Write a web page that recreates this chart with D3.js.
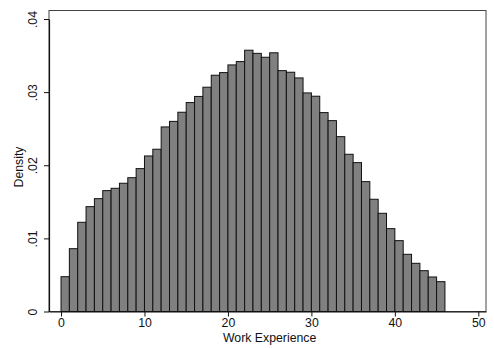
<!DOCTYPE html>
<html>
<head>
<meta charset="utf-8">
<script src="https://cdn.jsdelivr.net/npm/d3@7"></script>
<style>
  html, body { margin: 0; padding: 0; background: #fff; }
  text { font-family: "Liberation Sans", Arial, sans-serif; }
</style>
</head>
<body>
<div id="chart"></div>
<script>
// histogram of work experience, bins of width 1 starting at 0
const binStarts = d3.range(0, 46);
const density = [
  0.00476, 0.00859, 0.01220, 0.01434, 0.01543, 0.01653, 0.01685, 0.01754, 0.01830, 0.01954,
  0.02127, 0.02219, 0.02524, 0.02600, 0.02725, 0.02857, 0.02941, 0.03067, 0.03231, 0.03267,
  0.03372, 0.03418, 0.03573, 0.03530, 0.03477, 0.03538, 0.03294, 0.03272, 0.03194, 0.02989,
  0.02944, 0.02720, 0.02610, 0.02391, 0.02150, 0.02036, 0.01776, 0.01535, 0.01343, 0.01133,
  0.00969, 0.00782, 0.00659, 0.00558, 0.00472, 0.00408
];
const binWidth = 1;
const xTicks = [0, 10, 20, 30, 40, 50];
const yTicks = [0, 0.01, 0.02, 0.03, 0.04];
const xTitle = "Work Experience";
const yTitle = "Density";

const width = 494, height = 348;
const margin = {top: 10.5, right: 8, bottom: 36.5, left: 49};
const fontSize = "12.3px";

const svg = d3.select("#chart").append("svg")
    .attr("width", width)
    .attr("height", height);

// data ranges
const scaleX = d3.scaleLinear([-1.44, 50.92], [margin.left, width - margin.right]);
const scaleY = d3.scaleLinear([0, 0.04], [height - margin.bottom, 19]);

// plot region frame
svg.append("rect")
    .attr("x", margin.left)
    .attr("y", margin.top)
    .attr("width", width - margin.left - margin.right)
    .attr("height", height - margin.top - margin.bottom)
    .attr("fill", "none")
    .attr("stroke", "#444")
    .attr("stroke-width", 1);

// bars
svg.append("g").selectAll("rect.bar")
    .data(binStarts.map((s, i) => [s, density[i]]))
    .join("rect")
    .classed("bar", true)
    .attr("x", d => scaleX(d[0]))
    .attr("width", d => scaleX(d[0] + binWidth) - scaleX(d[0]))
    .attr("y", d => scaleY(d[1]))
    .attr("height", d => scaleY(0) - scaleY(d[1]))
    .attr("fill", "#808080")
    .attr("stroke", "#111")
    .attr("stroke-width", 1);

// axes
const axisX = svg.append("g")
    .attr("transform", `translate(0,${scaleY(0)})`)
    .call(d3.axisBottom(scaleX).tickValues(xTicks).tickFormat(d3.format("d")).tickSizeInner(5).tickSizeOuter(0).tickPadding(2));

const axisY = svg.append("g")
    .attr("transform", `translate(${margin.left},0)`)
    .call(d3.axisLeft(scaleY).tickValues(yTicks).tickFormat(d => d === 0 ? "0" : d3.format(".2f")(d).replace(/^0/, "")).tickSizeInner(5).tickSizeOuter(0));

[axisX, axisY].forEach(a => {
    a.select(".domain").attr("stroke", "#111").attr("stroke-width", 1.2);
    a.selectAll(".tick line").attr("stroke", "#111");
    a.selectAll("text").attr("fill", "#111").style("font-size", fontSize)
        .style("font-family", '"Liberation Sans", Arial, sans-serif');
});

// Stata-style rotated y tick labels
axisY.selectAll(".tick text")
    .attr("x", null)
    .attr("text-anchor", "middle")
    .attr("transform", "translate(-12.5,0) rotate(-90)")
    .attr("dy", "0");

svg.append("text")
    .attr("x", scaleX(25))
    .attr("y", 342)
    .attr("text-anchor", "middle")
    .style("font-size", fontSize)
    .attr("fill", "#111")
    .text(xTitle);

svg.append("text")
    .attr("transform", `translate(23,${(margin.top + height - margin.bottom) / 2 + 6}) rotate(-90)`)
    .attr("text-anchor", "middle")
    .style("font-size", fontSize)
    .attr("fill", "#111")
    .text(yTitle);
</script>
</body>
</html>
